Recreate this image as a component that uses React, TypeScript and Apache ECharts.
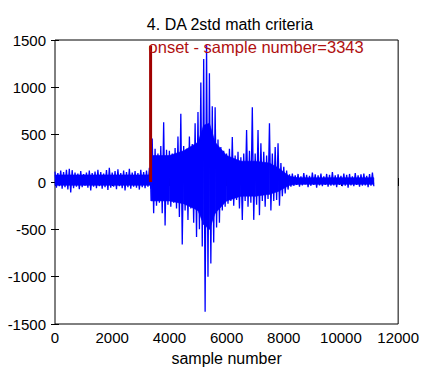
import React, { useEffect, useRef } from "react";
import * as echarts from "echarts";

const BIN = 100;
// per-100-sample maxima / minima
const upperEnv = [
  110, 95, 120, 105, 130, 140, 125, 100, 90, 115,
  85, 100, 120, 95, 110, 130, 105, 90, 125, 150,
  100, 115, 135, 95, 120, 105, 140, 100, 115, 95,
  130, 105, 120, 150,
  460, 350, 300, 380, 630, 340, 330, 300, 360, 480,
  720, 380, 350, 480, 400, 620, 740, 1050, 1300, 1450,
  1150, 800, 790, 450, 370, 330, 300, 350, 475, 280,
  320, 260, 300, 550, 330, 790, 300, 550, 410, 320,
  280, 620, 300, 370, 410, 200, 160, 120, 80,
  90, 70, 85, 60, 95, 75, 65, 100, 80, 70,
  90, 60, 85, 75, 105, 70, 80, 65, 90, 75,
  85, 60, 95, 70, 80, 90, 65, 85, 100,
];
const lowerEnv = [
  -60, -45, -70, -55, -80, -110, -65, -50, -75, -55,
  -40, -60, -90, -50, -65, -45, -70, -55, -85, -60,
  -50, -75, -45, -65, -90, -55, -70, -50, -60, -80,
  -55, -65, -50, -70,
  -330, -250, -220, -330, -460, -240, -260, -220, -280, -370,
  -660, -300, -400, -280, -430, -580, -500, -680, -1370, -1000,
  -860, -640, -480, -430, -300, -260, -230, -200, -250, -190,
  -280, -400, -200, -260, -220, -400, -240, -350, -200, -260,
  -180, -300, -200, -190, -250, -150, -120, -80, -50,
  -40, -30, -50, -35, -25, -55, -40, -30, -60, -35,
  -45, -30, -50, -40, -35, -55, -30, -45, -40, -60,
  -35, -45, -30, -50, -40, -35, -55, -40, -45,
];
// dense (solid) core of the signal
const coreX = [0, 3340, 3360, 4000, 4500, 5000, 5200, 5400, 5600, 6000, 6500, 7000, 7500, 7800, 8200, 8500, 11150];
const coreUp = [75, 75, 280, 280, 330, 420, 600, 620, 420, 280, 220, 220, 200, 150, 60, 45, 45];
const coreLo = [-35, -35, -200, -200, -230, -300, -450, -500, -330, -200, -150, -150, -130, -100, -35, -25, -25];
const onsetSample = 3343;
const onsetTop = 1440;
const xTicks = [0, 2000, 4000, 6000, 8000, 10000, 12000];
const yTicks = [-1500, -1000, -500, 0, 500, 1000, 1500];

export default function App() {
  const ref = useRef<HTMLDivElement>(null);
  useEffect(() => {
    if (!ref.current) return;
    const chart = echarts.init(ref.current, undefined, { renderer: "svg" });
    const signal: number[][] = [];
    for (let i = 0; i < upperEnv.length; i++) {
      signal.push([i * BIN, upperEnv[i]]);
      signal.push([i * BIN + BIN / 2, lowerEnv[i]]);
    }
    const coreSegs: number[][] = [];
    for (let i = 0; i < coreX.length - 1; i++) {
      coreSegs.push([coreX[i], coreUp[i], coreLo[i], coreX[i + 1], coreUp[i + 1], coreLo[i + 1]]);
    }
    const font = "Liberation Sans, Arial, sans-serif";
    const fmt = (v: number) => String(v);
    const common = {
      min: xTicks[0],
      max: xTicks[xTicks.length - 1],
      interval: xTicks[1] - xTicks[0],
    };
    const ycommon = {
      min: yTicks[0],
      max: yTicks[yTicks.length - 1],
      interval: yTicks[1] - yTicks[0],
    };
    chart.setOption({
      animation: false,
      backgroundColor: "#fff",
      title: {
        text: "4. DA 2std math criteria",
        left: 225,
        top: 11,
        textAlign: "center",
        textStyle: { fontSize: 16, fontWeight: "normal", color: "#000", fontFamily: font },
      },
      grid: {
        left: 55,
        right: 22,
        top: 40,
        bottom: 48,
        show: true,
        borderColor: "#000",
        borderWidth: 1,
        backgroundColor: "#fff",
      },
      xAxis: [
        {
          type: "value",
          ...common,
          name: "sample number",
          nameLocation: "middle",
          nameGap: 26,
          nameTextStyle: { fontSize: 16, color: "#000", fontFamily: font },
          axisLine: { show: false },
          axisTick: { inside: true, length: 4, lineStyle: { color: "#000" } },
          axisLabel: { fontSize: 15, color: "#000", fontFamily: font, margin: 6, formatter: fmt },
          splitLine: { show: false },
        },
        {
          type: "value",
          ...common,
          position: "top",
          axisLine: { show: false },
          axisTick: { inside: true, length: 4, lineStyle: { color: "#000" } },
          axisLabel: { show: false },
          splitLine: { show: false },
        },
      ],
      yAxis: [
        {
          type: "value",
          ...ycommon,
          axisLine: { show: false },
          axisTick: { inside: true, length: 4, lineStyle: { color: "#000" } },
          axisLabel: { fontSize: 15, color: "#000", fontFamily: font, margin: 9, formatter: fmt },
          splitLine: { show: false },
        },
        {
          type: "value",
          ...ycommon,
          position: "right",
          axisLine: { show: false },
          axisTick: { inside: true, length: 4, lineStyle: { color: "#000" } },
          axisLabel: { show: false },
          splitLine: { show: false },
        },
      ],
      series: [
        {
          type: "custom",
          data: coreSegs,
          encode: { x: [0, 3], y: [1, 2, 4, 5] },
          silent: true,
          z: 1,
          renderItem: (_params: any, api: any) => {
            const p0 = api.coord([api.value(0), api.value(1)]);
            const p1 = api.coord([api.value(3), api.value(4)]);
            const p2 = api.coord([api.value(3), api.value(5)]);
            const p3 = api.coord([api.value(0), api.value(2)]);
            return {
              type: "polygon",
              shape: { points: [p0, p1, p2, p3] },
              style: { fill: "#0000ff", stroke: "#0000ff", lineWidth: 0.6 },
            };
          },
        },
        {
          type: "line",
          data: signal,
          showSymbol: false,
          symbol: "none",
          lineStyle: { color: "#0000ff", width: 1.3 },
          z: 2,
        },
        {
          type: "line",
          data: [
            [onsetSample, 0],
            [onsetSample, onsetTop],
          ],
          symbol: "none",
          showSymbol: false,
          lineStyle: { color: "#a00000", width: 3 },
          z: 3,
          endLabel: {
            show: true,
            formatter: "onset - sample number=" + onsetSample,
            color: "#b01010",
            fontSize: 16.5,
            fontFamily: font,
            distance: 0,
            offset: [-2, 1],
          },
        },
      ],
    });
    return () => chart.dispose();
  }, []);
  return (
    <div
      ref={ref}
      style={{ position: "fixed", left: 0, top: 0, width: 422, height: 372 }}
    />
  );
}
